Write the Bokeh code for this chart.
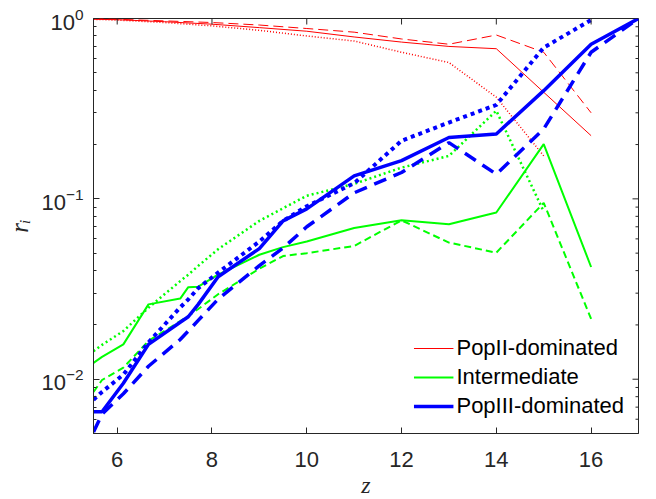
import math
from bokeh.plotting import figure
from bokeh.models import Range1d, FixedTicker, Legend, LegendItem
from bokeh.embed import file_html
from bokeh.resources import INLINE

nan = float("nan")

# redshift grid for the green / blue curves
Z = [5.5, 5.68, 6.13, 6.66, 7.33, 7.5, 7.71, 8.13, 9, 9.5, 10, 11, 12, 13, 14, 15, 16, 17]
blue_solid = [0.0066, 0.0066, 0.0095, 0.0156, 0.0207, 0.0222, 0.026, 0.037, 0.053, 0.0755, 0.088, 0.134, 0.163, 0.219, 0.229, 0.398, 0.72, 1.0]
blue_dashed = [0.0051, 0.0064, 0.0083, 0.0118, 0.0166, 0.0185, 0.0212, 0.0278, 0.0426, 0.0534, 0.070, 0.108, 0.14, 0.205, 0.137, 0.244, 0.65, 1.0]
blue_dotted = [0.0077, 0.0085, 0.0106, 0.016, 0.025, 0.0277, 0.032, 0.039, 0.058, 0.0755, 0.091, 0.122, 0.21, 0.265, 0.332, 0.69, 0.98, nan]
green_solid = [0.0123, 0.0133, 0.0156, 0.026, 0.028, 0.0324, 0.0326, 0.038, 0.049, 0.054, 0.058, 0.069, 0.076, 0.0723, 0.084, 0.201, 0.0419, nan]
green_dashed = [0.0085, 0.0099, 0.0116, 0.0163, 0.021, 0.0224, 0.0245, 0.0296, 0.041, 0.0482, 0.050, 0.0548, 0.076, 0.0572, 0.0503, 0.095, 0.0216, nan]
green_dotted = [0.0143, 0.0155, 0.0185, 0.0249, 0.035, 0.038, 0.0425, 0.0526, 0.0755, 0.0887, 0.104, 0.121, 0.149, 0.173, 0.308, 0.085, nan, nan]

# redshift grid for the red curves
Z_RED = [5.5, 6, 7, 8, 9, 10, 11, 12, 13, 14, 15, 16]
red_solid = [0.99, 0.985, 0.96, 0.93, 0.89, 0.85, 0.79, 0.74, 0.70, 0.68, 0.39, 0.224]
red_dashed = [1.0, 0.99, 0.97, 0.95, 0.92, 0.88, 0.84, 0.77, 0.72, 0.81, 0.65, 0.30]
red_dotted = [0.99, 0.98, 0.95, 0.91, 0.86, 0.80, 0.75, 0.65, 0.57, 0.366, 0.173, nan]

X_TICKS = [6, 8, 10, 12, 14, 16]
Y_TICKS = [0.01, 0.1, 1]
Y_MINOR = [0.005, 0.006, 0.007, 0.008, 0.009,
           0.02, 0.03, 0.04, 0.05, 0.06, 0.07, 0.08, 0.09,
           0.2, 0.3, 0.4, 0.5, 0.6, 0.7, 0.8, 0.9]
LABELS = ["PopII-dominated", "Intermediate", "PopIII-dominated"]

RED, GREEN, BLUE = "#FF0000", "#00FF00", "#0000FF"
AX = "#262626"
FONT = "Liberation Sans"
X0, X1, Y0, Y1 = 5.5, 17, 0.005, 1

p = figure(frame_width=545, frame_height=415, x_range=Range1d(X0, X1), y_range=Range1d(Y0, Y1),
           y_axis_type="log", output_backend="svg", toolbar_location=None,
           min_border_left=93, min_border_right=16, min_border_top=18, min_border_bottom=64)
p.xgrid.visible = False
p.ygrid.visible = False
p.outline_line_color = AX
p.outline_line_width = 1
p.background_fill_color = "white"
p.border_fill_color = "white"

r_red = p.line(Z_RED, red_solid, line_color=RED, line_width=1)
p.line(Z_RED, red_dashed, line_color=RED, line_width=1, line_dash="10 5")
p.line(Z_RED, red_dotted, line_color=RED, line_width=1.5, line_dash="1 2")

r_green = p.line(Z, green_solid, line_color=GREEN, line_width=2)
p.line(Z, green_dashed, line_color=GREEN, line_width=2, line_dash="7 4")
p.line(Z, green_dotted, line_color=GREEN, line_width=2.5, line_dash="2 3")

r_blue = p.line(Z, blue_solid, line_color=BLUE, line_width=3.5)
p.line(Z, blue_dashed, line_color=BLUE, line_width=3.5, line_dash="13 8")
p.line(Z, blue_dotted, line_color=BLUE, line_width=4, line_dash="4 4")

# mirrored ticks on the top and right edges of the box (inward)
p.ray(x=X_TICKS, y=[Y1] * len(X_TICKS), length=6, length_units="screen",
      angle=-math.pi / 2, line_color=AX, line_width=1)
p.ray(x=[X1] * len(Y_TICKS), y=Y_TICKS, length=6, length_units="screen",
      angle=math.pi, line_color=AX, line_width=1)
p.ray(x=[X1] * len(Y_MINOR), y=Y_MINOR, length=3, length_units="screen",
      angle=math.pi, line_color=AX, line_width=1)

xax = p.below[0]
yax = p.left[0]
for ax in (xax, yax):
    ax.axis_line_color = AX
    ax.major_tick_line_color = AX
    ax.minor_tick_line_color = AX
    ax.major_tick_in = 6
    ax.major_tick_out = 0
    ax.minor_tick_in = 3
    ax.minor_tick_out = 0
    ax.major_label_text_font = FONT
    ax.major_label_text_color = AX
    ax.major_label_text_font_size = "22px"
    ax.axis_label_text_font = "Liberation Serif"
    ax.axis_label_text_font_style = "italic"
    ax.axis_label_text_color = AX

xax.ticker = FixedTicker(ticks=X_TICKS, minor_ticks=[])
yax.ticker = FixedTicker(ticks=Y_TICKS, minor_ticks=Y_MINOR)
xax.major_label_standoff = 18
yax.major_label_standoff = 10
xax.axis_label = "z"
yax.axis_label = "rᵢ"
xax.axis_label_text_font_size = "24px"
yax.axis_label_text_font_size = "25px"
xax.axis_label_standoff = 2
yax.axis_label_standoff = 5

legend = Legend(items=[LegendItem(label=LABELS[0], renderers=[r_red]),
                       LegendItem(label=LABELS[1], renderers=[r_green]),
                       LegendItem(label=LABELS[2], renderers=[r_blue])],
                location="bottom_right", glyph_width=40, glyph_height=22,
                label_height=22, label_text_font=FONT, label_text_font_size="22px",
                label_text_color="black", spacing=3, padding=8, margin=6,
                label_standoff=3, border_line_alpha=0, background_fill_alpha=0)
p.add_layout(legend)

open("out.html", "w").write(file_html(p, INLINE))
